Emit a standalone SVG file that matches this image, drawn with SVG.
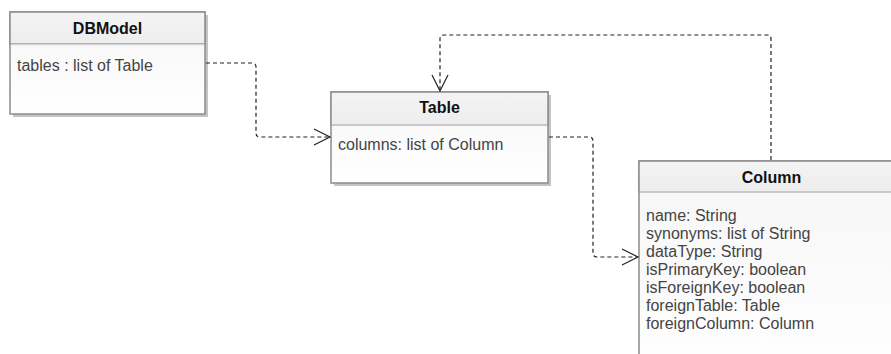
<svg xmlns="http://www.w3.org/2000/svg" width="891" height="354" viewBox="0 0 891 354">
<defs>
<linearGradient id="hd" x1="0" y1="0" x2="0" y2="1"><stop offset="0" stop-color="#f4f4f4"/><stop offset="1" stop-color="#ededed"/></linearGradient>
<linearGradient id="bd" x1="0" y1="0" x2="0" y2="1"><stop offset="0" stop-color="#f6f6f6"/><stop offset="1" stop-color="#ffffff"/></linearGradient>
<marker id="arr" viewBox="0 0 20 20" refX="17" refY="10" markerWidth="20" markerHeight="20" markerUnits="userSpaceOnUse" orient="auto">
<path d="M1,2 L17,10 L1,18" fill="none" stroke="#222" stroke-width="1.2"/>
</marker>
</defs>
<style>
.shadow{fill:#c4c4c4}
.head{fill:url(#hd);stroke:#8c8c8c;stroke-width:1.5}
.body{fill:url(#bd);stroke:#8c8c8c;stroke-width:1.5}
.div{stroke:#d4d4d4;stroke-width:1.5}
.title{font-family:"Liberation Sans",Arial,sans-serif;font-size:16px;font-weight:bold;fill:#111;text-anchor:middle}
.attr{font-family:"Liberation Sans",Arial,sans-serif;font-size:16px;fill:#444}
.conn{fill:none;stroke:#222;stroke-width:1.2;stroke-dasharray:4 3;marker-end:url(#arr)}
</style>
<g id="DBModel">
<rect class="shadow" x="13" y="15" width="195" height="102"/>
<rect class="body" x="10" y="12" width="195" height="102"/>
<rect class="head" x="10" y="12" width="195" height="32"/>
<line class="div" x1="10.75" y1="44.5" x2="204.25" y2="44.5"/>
<text class="title" x="107.5" y="34">DBModel</text>
<text class="attr" x="17" y="71">tables : list of Table</text>
</g>
<g id="Table">
<rect class="shadow" x="334" y="95" width="217" height="91"/>
<rect class="body" x="331" y="92" width="217" height="91"/>
<rect class="head" x="331" y="92" width="217" height="33"/>
<line class="div" x1="331.75" y1="125" x2="547.25" y2="125"/>
<text class="title" x="439.5" y="113">Table</text>
<text class="attr" x="338" y="150">columns: list of Column</text>
</g>
<g id="Column">
<rect class="shadow" x="642" y="164" width="265" height="220"/>
<rect class="body" x="639" y="161" width="265" height="220"/>
<rect class="head" x="639" y="161" width="265" height="31"/>
<line class="div" x1="639.75" y1="192" x2="903" y2="192"/>
<text class="title" x="771.5" y="182.5">Column</text>
<text class="attr" x="646" y="221">name: String</text>
<text class="attr" x="646" y="239">synonyms: list of String</text>
<text class="attr" x="646" y="257">dataType: String</text>
<text class="attr" x="646" y="275">isPrimaryKey: boolean</text>
<text class="attr" x="646" y="293">isForeignKey: boolean</text>
<text class="attr" x="646" y="311">foreignTable: Table</text>
<text class="attr" x="646" y="329">foreignColumn: Column</text>
</g>
<g id="connectors">
<path class="conn" d="M206,63 H252 Q256,63 256,67 V133 Q256,137 260,137 H330"/>
<path class="conn" d="M549,137 H589 Q593,137 593,141 V253 Q593,257 597,257 H638"/>
<path class="conn" d="M771,160 V39 Q771,35 767,35 H444 Q440,35 440,39 V91"/>
</g>
</svg>
